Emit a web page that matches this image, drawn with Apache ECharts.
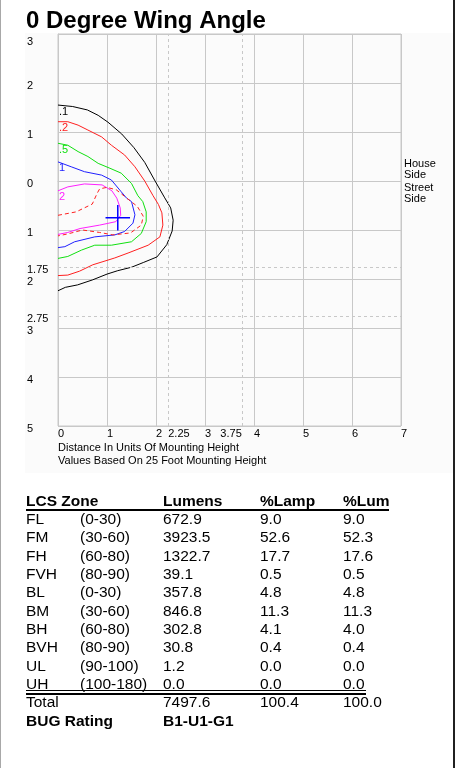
<!DOCTYPE html>
<html>
<head>
<meta charset="utf-8">
<script src="https://cdn.jsdelivr.net/npm/echarts@6.0.0/dist/echarts.min.js"></script>
<style>
  html, body { margin: 0; padding: 0; background: #fff; }
  #chart { width: 457px; height: 768px; }
</style>
</head>
<body>
<div id="chart"></div>
<script>
// iso-candela contours, x = distance (mounting heights), y = house(+)/street(-)
const contour01 = [[0,1.55],[0.3,1.52],[0.6,1.45],[0.82,1.34],[1.02,1.2],[1.3,0.96],[1.55,0.68],[1.77,0.38],[1.97,0.02],[2.17,-0.33],[2.3,-0.55],[2.35,-0.8],[2.33,-1.02],[2.22,-1.3],[2.02,-1.55],[1.75,-1.66],[1.5,-1.76],[1.22,-1.83],[1.0,-1.9],[0.7,-2.02],[0.4,-2.12],[0.15,-2.17],[0,-2.24]];
const contour02 = [[0,1.21],[0.2,1.21],[0.41,1.14],[0.61,1.04],[0.89,0.9],[1.09,0.73],[1.36,0.53],[1.57,0.29],[1.77,0.0],[1.94,-0.3],[2.05,-0.48],[2.12,-0.65],[2.14,-0.9],[2.08,-1.14],[1.84,-1.31],[1.43,-1.47],[1.16,-1.57],[1.0,-1.62],[0.71,-1.71],[0.44,-1.84],[0.2,-1.92],[0,-1.93]];
const contour05 = [[0,0.77],[0.2,0.73],[0.41,0.6],[0.61,0.5],[0.82,0.36],[1.06,0.26],[1.29,0.16],[1.5,-0.05],[1.63,-0.3],[1.73,-0.42],[1.8,-0.63],[1.8,-0.83],[1.7,-1.07],[1.5,-1.24],[1.09,-1.31],[0.75,-1.31],[0.48,-1.41],[0.2,-1.54],[0,-1.58]];
const contour1 = [[0,0.39],[0.27,0.29],[0.54,0.19],[0.89,0.12],[1.09,0.02],[1.29,-0.22],[1.4,-0.35],[1.5,-0.42],[1.57,-0.69],[1.53,-0.86],[1.36,-1.03],[1.16,-1.1],[0.75,-1.14],[0.34,-1.24],[0.14,-1.34],[0,-1.36]];
const contour2 = [[0,-0.2],[0.2,-0.12],[0.54,-0.06],[0.9,-0.08],[1.1,-0.2],[1.2,-0.35],[1.27,-0.55],[1.28,-0.7],[1.18,-0.83],[0.85,-0.9],[0.45,-0.97],[0.2,-1.05],[0,-1.09]];
const halfMax = [[0,-0.7],[0.37,-0.63],[0.7,-0.47],[0.8,-0.25],[0.85,-0.16],[1.0,-0.13],[1.19,-0.18],[1.43,-0.37],[1.62,-0.52],[1.74,-0.72],[1.7,-0.9],[1.48,-1.06],[1.12,-1.1],[0.85,-1.05],[0.5,-1.0],[0.2,-1.08],[0,-1.12]];
const maxPoint = [1.22, -0.75];
const crossHalfW = 0.25;
const crossHalfH = 0.26;

const yTickValues = [3, 2, 1, 0, -1, -1.75, -2, -2.75, -3, -4, -5];
const xTickValues = [0, 1, 2, 2.25, 3, 4, 5, 6, 7];
const xTickRight = [3.75];
const refX = [2.25, 3.75];
const refY = [-1.75, -2.75];
const sideLineX = [7, 8];

// LCS table
const zoneNames = ['FL', 'FM', 'FH', 'FVH', 'BL', 'BM', 'BH', 'BVH', 'UL', 'UH'];
const zoneRanges = ['(0-30)', '(30-60)', '(60-80)', '(80-90)', '(0-30)', '(30-60)', '(60-80)', '(80-90)', '(90-100)', '(100-180)'];
const lumens = ['672.9', '3923.5', '1322.7', '39.1', '357.8', '846.8', '302.8', '30.8', '1.2', '0.0'];
const pctLamp = ['9.0', '52.6', '17.7', '0.5', '4.8', '11.3', '4.1', '0.4', '0.0', '0.0'];
const pctLum = ['9.0', '52.3', '17.6', '0.5', '4.8', '11.3', '4.0', '0.4', '0.0', '0.0'];
const totals = ['Total', '7497.6', '100.4', '100.0'];
const bugRating = 'B1-U1-G1';

const FONT = '"Liberation Sans", Arial, sans-serif';
const GRID = '#c8c8c8';

const contourSeries = (data, color, text, dashed) => ({
    type: 'line',
    data: data.map((p, i) => i === 0 ? { value: p, label: { show: true, formatter: text } } : p),
    showSymbol: true,
    symbol: 'circle',
    symbolSize: 0,
    clip: false,
    silent: true,
    lineStyle: { color: color, width: 1, type: dashed ? [4, 3] : 'solid' },
    itemStyle: { color: color },
    label: { show: false, position: [1, 1], align: 'left', verticalAlign: 'top', color: color, fontSize: 11, fontFamily: FONT }
});

const chart = echarts.init(document.getElementById('chart'));

// table as graphic text
const cols = [26, 80, 163, 260, 343];
const rowTop = 495.5;
const rowStep = 18.33;
const tFont = 15.5;
const table = [];
const txt = (x, y, s, bold) => ({
    type: 'text', x: x, y: y, silent: true,
    style: { text: s, fill: '#000', font: (bold ? 'bold ' : '') + tFont + 'px ' + FONT, verticalAlign: 'top', align: 'left' }
});
['LCS Zone', null, 'Lumens', '%Lamp', '%Lum'].forEach((h, c) => { if (h) table.push(txt(cols[c], rowTop - 2, h, true)); });
zoneNames.forEach((z, i) => {
    const y = rowTop - 2 + rowStep * (i + 1);
    [z, zoneRanges[i], lumens[i], pctLamp[i], pctLum[i]].forEach((s, c) => table.push(txt(cols[c], y, s, false)));
});
const totalY = rowTop - 2 + rowStep * (zoneNames.length + 1);
table.push(txt(cols[0], totalY, totals[0], false));
totals.slice(1).forEach((s, k) => table.push(txt(cols[k + 2], totalY, s, false)));
table.push(txt(cols[0], totalY + rowStep, 'BUG Rating', true));
table.push(txt(cols[2], totalY + rowStep, bugRating, true));
table.push({ type: 'rect', shape: { x: 26, y: 509, width: 363, height: 2 }, style: { fill: '#000' }, silent: true });
table.push({ type: 'rect', shape: { x: 26, y: 690, width: 340, height: 1 }, style: { fill: '#000' }, silent: true });
table.push({ type: 'rect', shape: { x: 26, y: 693, width: 340, height: 2 }, style: { fill: '#000' }, silent: true });

const option = {
    animation: false,
    backgroundColor: '#fff',
    title: {
        text: '0 Degree Wing Angle', left: 26, top: 9, padding: 0,
        textStyle: { fontSize: 24, fontWeight: 'bold', color: '#000', fontFamily: FONT }
    },
    grid: { left: 58, top: 34, width: 343, height: 392, show: true, borderColor: GRID, borderWidth: 1 },
    xAxis: [{
        type: 'value', min: 0, max: 7, interval: 1,
        axisLine: { lineStyle: { color: GRID } },
        axisTick: { show: false },
        splitLine: { lineStyle: { color: GRID, width: 1 } },
        axisLabel: { customValues: xTickValues, align: 'left', margin: 2, color: '#000', fontSize: 11, fontFamily: FONT }
    }, {
        type: 'value', min: 0, max: 7, position: 'bottom',
        axisLine: { show: false }, axisTick: { show: false }, splitLine: { show: false },
        axisLabel: { customValues: xTickRight, align: 'right', margin: 2, color: '#000', fontSize: 11, fontFamily: FONT }
    }],
    yAxis: {
        type: 'value', min: -5, max: 3, interval: 1,
        axisLine: { lineStyle: { color: GRID } },
        axisTick: { show: false },
        splitLine: { lineStyle: { color: GRID, width: 1 } },
        axisLabel: {
            customValues: yTickValues, align: 'left', margin: 31, verticalAlign: 'middle',
            padding: [6, 0, 0, 0], color: '#000', fontSize: 11, fontFamily: FONT,
            formatter: v => v === 3 ? '{t|3}' : String(Math.abs(v)),
            rich: { t: { padding: [10, 0, 0, 0], color: '#000', fontSize: 11, fontFamily: FONT } }
        }
    },
    graphic: [
        { type: 'rect', z: -10, shape: { x: 25, y: 33, width: 430, height: 440 }, style: { fill: '#fbfbfb' }, silent: true },
        { type: 'rect', shape: { x: 0, y: 0, width: 1, height: 768 }, style: { fill: '#a8a8a8' }, silent: true },
        { type: 'rect', shape: { x: 453, y: 0, width: 2, height: 768 }, style: { fill: '#202020' }, silent: true },
        { type: 'text', x: 58, y: 442, silent: true, style: { text: 'Distance In Units Of Mounting Height\nValues Based On 25 Foot Mounting Height', font: '11px ' + FONT, lineHeight: 12.5, fill: '#000' } },
        { type: 'text', x: 404, y: 158, silent: true, style: { text: 'House\nSide', font: '11px ' + FONT, lineHeight: 11, fill: '#000' } },
        { type: 'text', x: 404, y: 182, silent: true, style: { text: 'Street\nSide', font: '11px ' + FONT, lineHeight: 11, fill: '#000' } }
    ].concat(table),
    series: [
        {
            type: 'line', data: [], silent: true,
            markLine: {
                silent: true, symbol: 'none', label: { show: false },
                lineStyle: { color: GRID, type: [3, 3], width: 1 },
                data: refX.map(v => ({ xAxis: v })).concat(refY.map(v => ({ yAxis: v })))
            }
        },
        {
            type: 'line', data: sideLineX.map(x => [x, 0]), clip: false, silent: true, showSymbol: false,
            lineStyle: { color: GRID, type: [3, 3], width: 1 }
        },
        contourSeries(contour01, '#000000', '.1'),
        contourSeries(contour02, '#ff2020', '.2'),
        contourSeries(contour05, '#10e010', '.5'),
        contourSeries(contour1, '#2020ff', '1'),
        contourSeries(contour2, '#ff20ff', '2'),
        contourSeries(halfMax, '#ff2020', '', true),
        {
            type: 'line', silent: true, showSymbol: false,
            data: [[maxPoint[0] - crossHalfW, maxPoint[1]], [maxPoint[0] + crossHalfW, maxPoint[1]]],
            lineStyle: { color: '#0000ff', width: 1.5 }
        },
        {
            type: 'line', silent: true, showSymbol: false,
            data: [[maxPoint[0], maxPoint[1] + crossHalfH], [maxPoint[0], maxPoint[1] - crossHalfH]],
            lineStyle: { color: '#0000ff', width: 1.5 }
        }
    ]
};

chart.setOption(option);
</script>
</body>
</html>
